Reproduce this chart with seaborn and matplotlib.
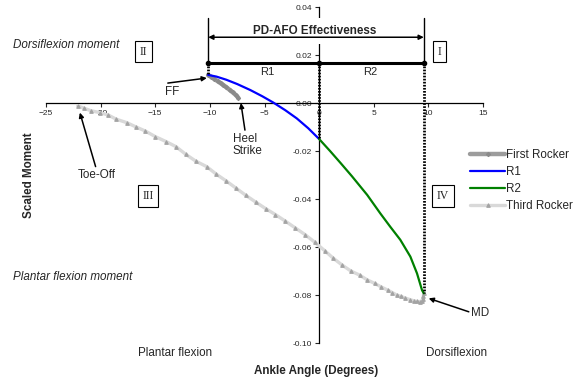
import numpy as np
import pandas as pd
import seaborn as sns
import matplotlib.pyplot as plt

# values: ankle angle (deg) vs scaled moment
first_rocker_x = [-10.16, -9.9, -9.6, -9.3, -9.0, -8.77, -8.5, -8.2, -7.9, -7.6, -7.4]
first_rocker_y = [0.0117, 0.0110, 0.0101, 0.0091, 0.0082, 0.0075, 0.0066, 0.0055, 0.0044, 0.0032, 0.0022]

r1_x = [-10.16, -9.4, -8.5, -7.5, -6.3, -5.2, -4.2, -3.1, -2.05, -1.0, 0.0]
r1_y = [0.0117, 0.0110, 0.0097, 0.0079, 0.0054, 0.0028, 0.0002, -0.0030, -0.0064, -0.0105, -0.0150]

r2_x = [0.0, 1.0, 2.0, 3.0, 4.4, 5.6, 6.5, 7.43, 8.35, 8.96, 9.42, 9.58]
r2_y = [-0.0150, -0.0200, -0.0252, -0.0305, -0.0383, -0.0460, -0.0515, -0.0570, -0.0640, -0.0710, -0.0780, -0.0793]

third_x = [9.58, 9.55, 9.5, 9.4, 9.2, 8.95, 8.65, 8.3, 7.9, 7.5, 7.1, 6.7, 6.3, 5.7, 5.1,
           4.4, 3.7, 2.9, 2.1, 1.3, 0.5, -0.4, -1.3, -2.2, -3.1, -4.0, -4.9, -5.8, -6.7,
           -7.6, -8.5, -9.4, -10.3, -11.3, -12.2, -13.1, -14.0, -15.0, -15.9, -16.8,
           -17.6, -18.6, -19.3, -20.1, -20.9, -21.5, -22.1]
third_y = [-0.0793, -0.0803, -0.0816, -0.0824, -0.0828, -0.0827, -0.0824, -0.0819, -0.0813,
           -0.0806, -0.0800, -0.0790, -0.0780, -0.0767, -0.0752, -0.0737, -0.0717, -0.0700,
           -0.0675, -0.0647, -0.0615, -0.0580, -0.0548, -0.0520, -0.0492, -0.0465, -0.0440,
           -0.0413, -0.0385, -0.0355, -0.0325, -0.0297, -0.0265, -0.0242, -0.0214, -0.0182,
           -0.0161, -0.0140, -0.0117, -0.0099, -0.0082, -0.0067, -0.0050, -0.0040, -0.0032,
           -0.0022, -0.0012]

# rocker boundaries and effectiveness bar
hs_angle = -10.15
split_angle = 0.0
md_angle = 9.58
bar_level = 0.0166
arrow_level = 0.0274
top_level = 0.0353
x_ticks = [-25, -20, -15, -10, -5, 0, 5, 10, 15]
y_ticks = [-0.10, -0.08, -0.06, -0.04, -0.02, 0.00, 0.02, 0.04]

sns.set_style("white")
plt.rcParams['font.family'] = ['Liberation Sans', 'DejaVu Sans']
fs = 8.4

fig = plt.figure(figsize=(5.84, 3.79), dpi=100)
ax = fig.add_axes([46 / 584, 1 - 343 / 379, 437 / 584, 336 / 379])

sns.lineplot(x=third_x, y=third_y, ax=ax, sort=False, estimator=None, color='#d9d9d9',
             lw=2.4, marker='^', markersize=2.6, markerfacecolor='#a3a3a3',
             markeredgecolor='#a3a3a3', label='Third Rocker', zorder=3)
sns.lineplot(x=first_rocker_x, y=first_rocker_y, ax=ax, sort=False, estimator=None,
             color='#9c9c9c', lw=3.2, marker='D', markersize=2.2, markerfacecolor='#8a8a8a',
             markeredgecolor='#8a8a8a', label='First Rocker', zorder=4)
sns.lineplot(x=r1_x, y=r1_y, ax=ax, sort=False, estimator=None, color='#0000ff', lw=1.6,
             label='R1', zorder=4)
sns.lineplot(x=r2_x, y=r2_y, ax=ax, sort=False, estimator=None, color='#008000', lw=1.6,
             label='R2', zorder=4)

# dotted drop lines and the effectiveness bar
dot = (0, (0.6, 0.5))
ax.plot([hs_angle, hs_angle], [bar_level, r1_y[0]], color='black', lw=2, ls=dot, zorder=5)
ax.plot([split_angle, split_angle], [bar_level, r1_y[-1]], color='black', lw=2, ls=dot, zorder=5)
ax.plot([md_angle, md_angle], [bar_level, r2_y[-1]], color='black', lw=2, ls=dot, zorder=5)
ax.plot([hs_angle, hs_angle], [bar_level, top_level], color='black', lw=1, zorder=5)
ax.plot([md_angle, md_angle], [bar_level, top_level], color='black', lw=1, zorder=5)
ax.plot([hs_angle, split_angle, md_angle], [bar_level] * 3, color='black', lw=2.2,
        marker='o', markersize=3, zorder=6)
ax.text(-0.37, 0.0302, 'PD-AFO Effectiveness', ha='center', va='center', fontsize=fs,
        fontweight='bold', zorder=6,
        bbox=dict(boxstyle='square,pad=0.6', fc='white', ec='none'))
ax.annotate('', xy=(md_angle, arrow_level), xytext=(hs_angle, arrow_level), zorder=7,
            arrowprops=dict(arrowstyle='<|-|>', color='black', lw=1.1, mutation_scale=7,
                            shrinkA=0, shrinkB=0))
ax.text(-4.74, 0.0130, 'R1', ha='center', va='center', fontsize=8)
ax.text(4.68, 0.0130, 'R2', ha='center', va='center', fontsize=8)

# quadrant labels
for txt, qx, qy in [('II', -16.1, 0.0214), ('I', 11.04, 0.0214),
                    ('III', -15.66, -0.0388), ('IV', 11.35, -0.0388)]:
    ax.text(qx, qy, txt, ha='center', va='center', fontsize=8.5, family='Liberation Serif',
            bbox=dict(boxstyle='square,pad=0.4', fc='white', ec='black', lw=0.8))

# event annotations
arrow_kw = dict(arrowstyle='-|>', color='black', lw=1.1, mutation_scale=7, shrinkA=0, shrinkB=0)
ax.annotate('', xy=(-10.28, 0.0104), xytext=(-13.85, 0.0083), arrowprops=arrow_kw, zorder=7)
ax.text(-13.5, 0.0046, 'FF', ha='center', va='center', fontsize=fs)
ax.annotate('', xy=(-7.16, 0.0), xytext=(-6.79, -0.0113), arrowprops=arrow_kw, zorder=7)
ax.text(-7.89, -0.0175, 'Heel\nStrike', ha='left', va='center', fontsize=fs, linespacing=1.0)
ax.annotate('', xy=(-21.9, -0.004), xytext=(-20.46, -0.0265), arrowprops=arrow_kw, zorder=7)
ax.text(-20.4, -0.0300, 'Toe-Off', ha='center', va='center', fontsize=fs)
ax.annotate('', xy=(10.03, -0.0814), xytext=(13.7, -0.0870), arrowprops=arrow_kw, zorder=7)
ax.text(14.7, -0.0876, 'MD', ha='center', va='center', fontsize=fs)

ax.text(-27.98, 0.0242, 'Dorsiflexion moment', ha='left', va='center', fontsize=fs,
        style='italic', clip_on=False)
ax.text(-27.98, -0.0724, 'Plantar flexion moment', ha='left', va='center', fontsize=fs,
        style='italic', clip_on=False)

fig.text(175 / 584, 1 - 353 / 379, 'Plantar flexion', ha='center', va='center', fontsize=fs)
fig.text(457 / 584, 1 - 353 / 379, 'Dorsiflexion', ha='center', va='center', fontsize=fs)
fig.text(316 / 584, 1 - 371 / 379, 'Ankle Angle (Degrees)', ha='center', va='center',
         fontsize=fs, fontweight='bold')
fig.text(29 / 584, 1 - 175.5 / 379, 'Scaled Moment', ha='center', va='center',
         fontsize=fs, fontweight='bold', rotation=90)

# Excel-style crossing axes
ax.set_xlim(-25, 15)
ax.set_ylim(-0.10, 0.04)
ax.spines['left'].set_position(('data', 0))
ax.spines['bottom'].set_position(('data', 0))
ax.spines['top'].set_visible(False)
ax.spines['right'].set_visible(False)
for s in ['left', 'bottom']:
    ax.spines[s].set_color('black')
    ax.spines[s].set_linewidth(0.9)
    ax.spines[s].set_zorder(2)
ax.set_xticks(x_ticks)
ax.set_yticks(y_ticks)
ax.set_yticklabels([f'{v:.2f}' for v in y_ticks])
ax.tick_params(axis='both', labelsize=6, length=3, width=0.8, direction='out', pad=2,
               bottom=True, left=True)
ax.set_xlabel('')
ax.set_ylabel('')

handles, labels = ax.get_legend_handles_labels()
order = [labels.index(n) for n in ['First Rocker', 'R1', 'R2', 'Third Rocker']]
ax.legend([handles[i] for i in order], [labels[i] for i in order], loc='upper left',
          bbox_to_anchor=(470 / 584, 1 - 149 / 379), bbox_transform=fig.transFigure,
          frameon=False, fontsize=fs, borderpad=0, handlelength=3.0, handletextpad=0.1,
          labelspacing=0.42, borderaxespad=0)

plt.savefig('out.png', dpi=100)
plt.close()
